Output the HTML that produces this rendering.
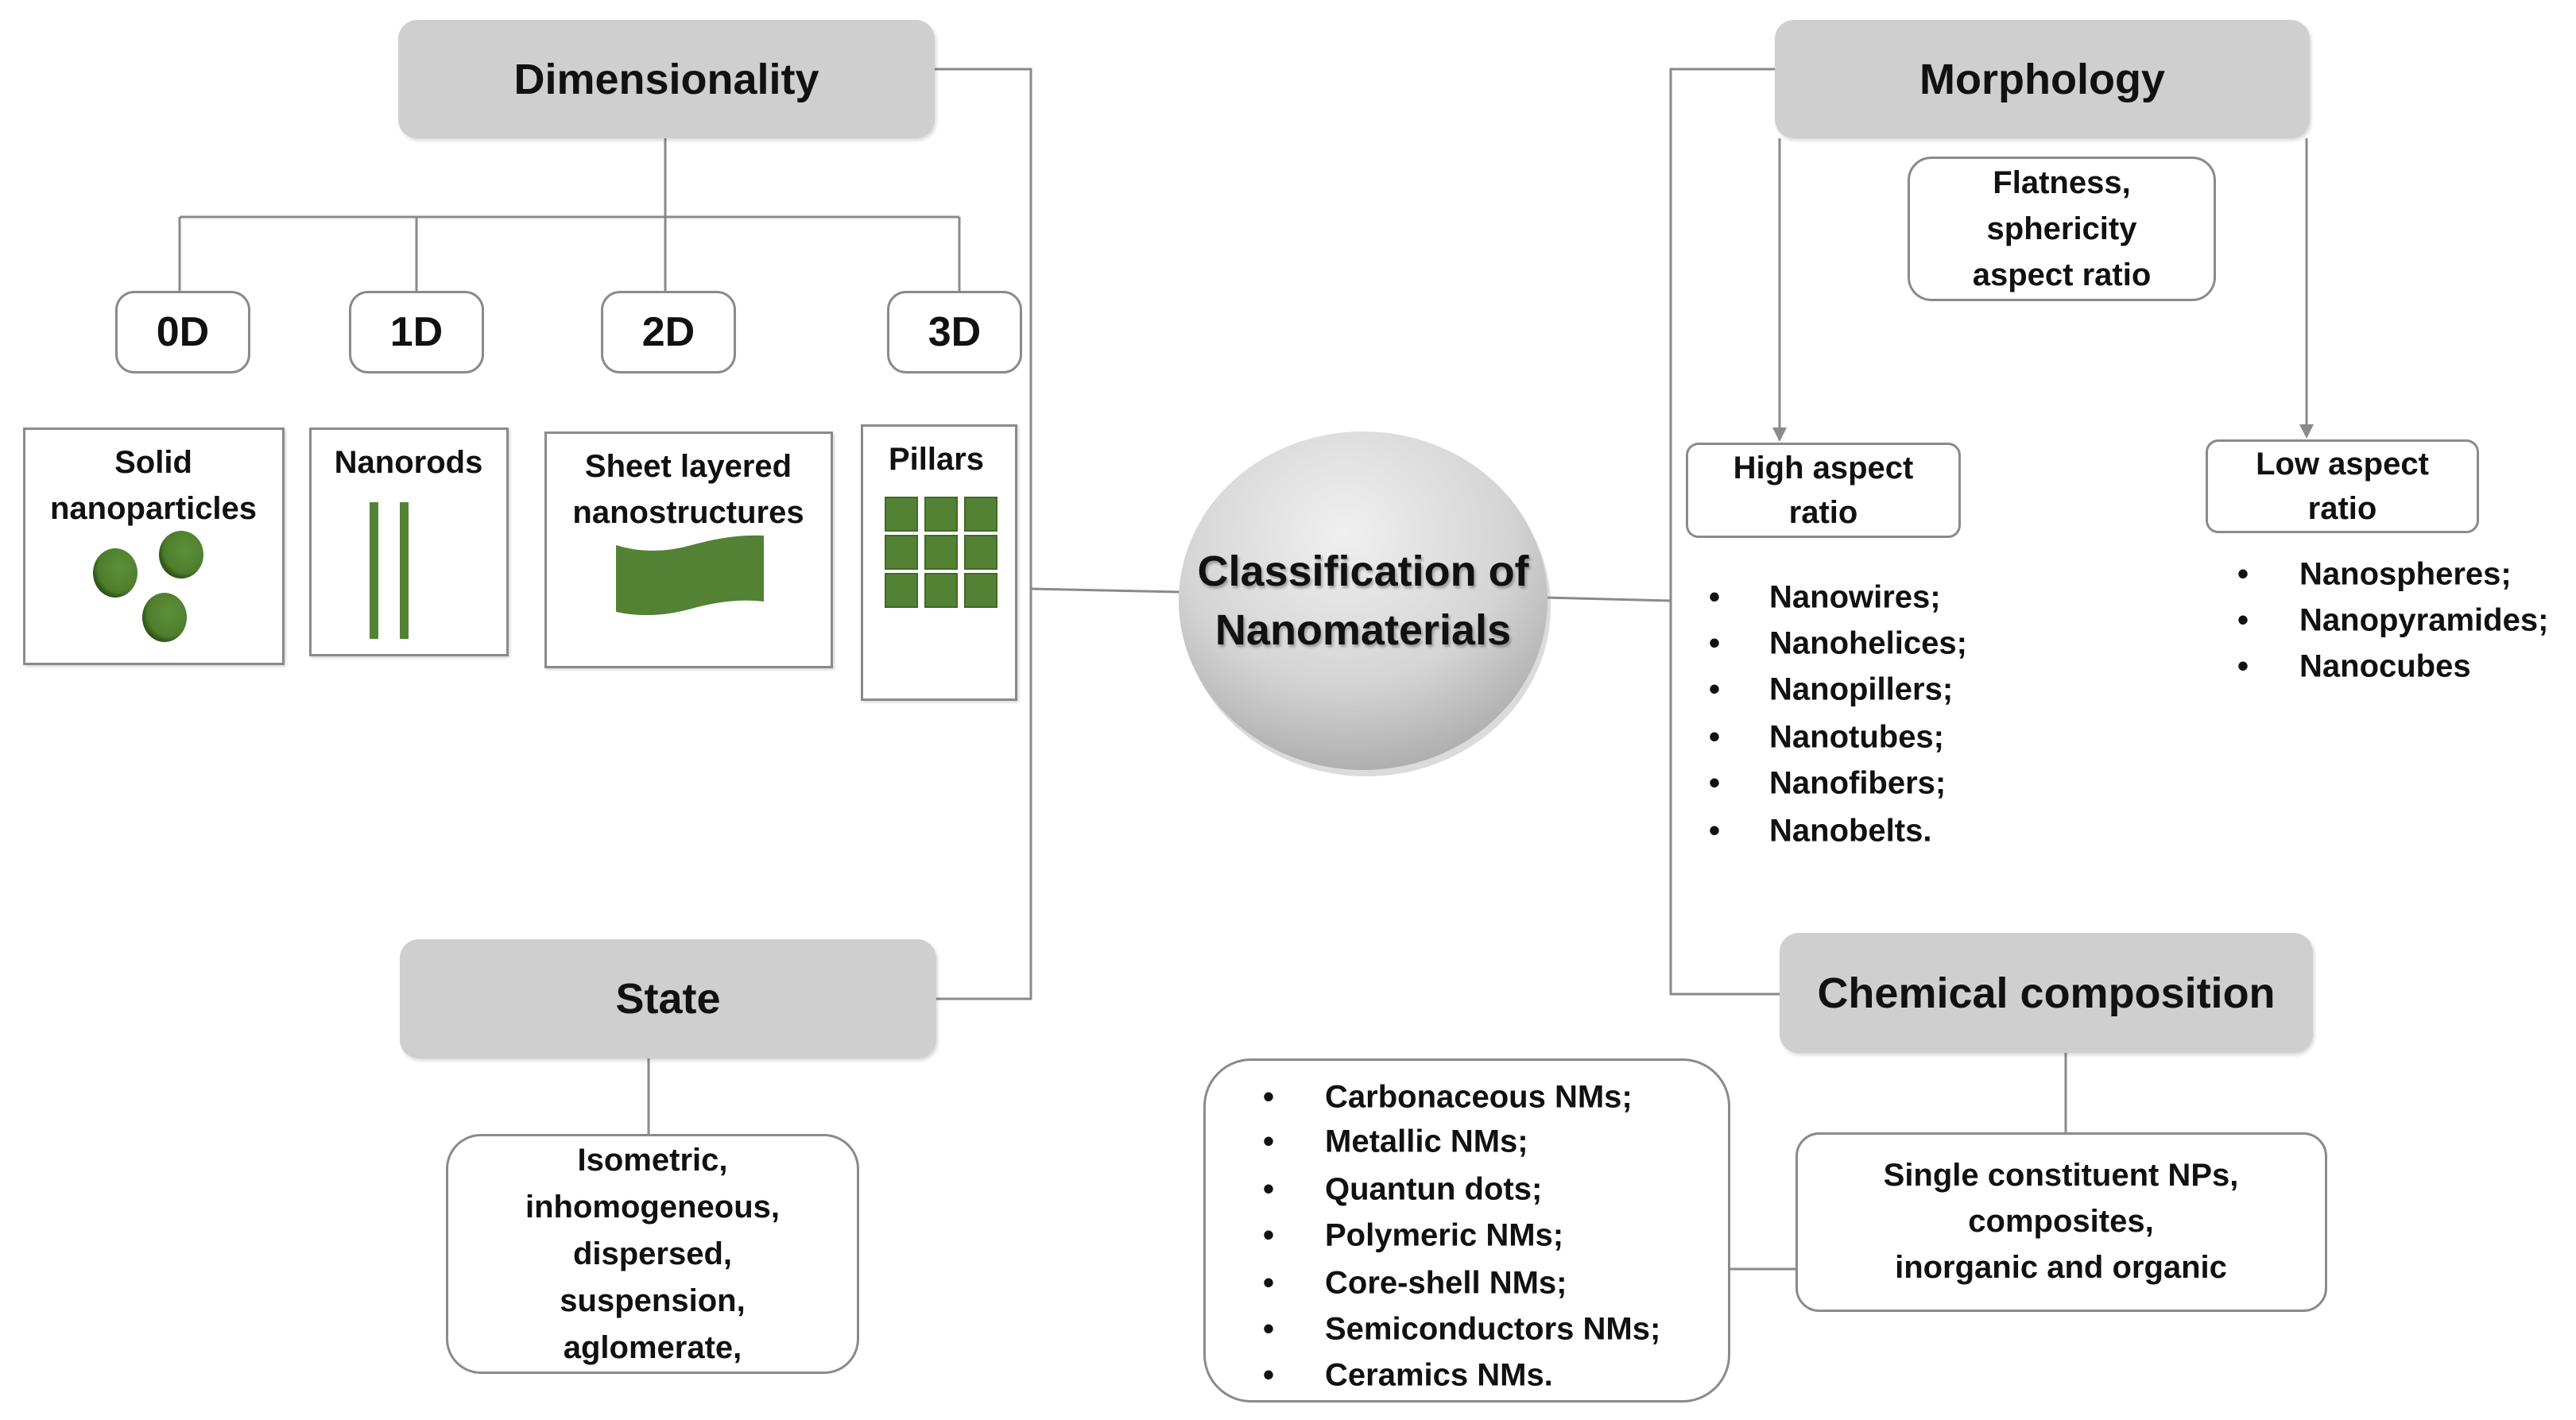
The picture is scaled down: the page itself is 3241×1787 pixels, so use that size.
<!DOCTYPE html>
<html><head><meta charset="utf-8"><style>
body{margin:0;width:3241px;height:1787px;background:#fff;position:relative;overflow:hidden;font-family:"Liberation Sans",sans-serif;font-weight:700;color:#111}
.a{position:absolute;box-sizing:border-box;display:flex;align-items:center;justify-content:center;text-align:center}
.hdr{background:#d0cfd0;border-radius:24px;font-size:54px;box-shadow:2px 3px 4px rgba(0,0,0,0.15)}
.rb{background:#fff;border:3px solid #8a8a8a;border-radius:24px}
.sq{background:#fff;border:3px solid #8a8a8a;box-shadow:2px 2px 3px rgba(0,0,0,.15)}
.t{position:absolute;font-size:40px;white-space:nowrap;transform:translate(-50%,-50%);text-align:center;line-height:58px}
.li{position:absolute;font-size:40px;white-space:nowrap;transform:translateY(-50%)}
</style></head><body>
<svg width="3241" height="1787" style="position:absolute;left:0;top:0">
<g stroke="#8a8a8a" stroke-width="3" fill="none">
<polyline points="1176,87 1297,87 1297,1257 1178,1257"/>
<line x1="837" y1="174" x2="837" y2="366"/>
<line x1="226" y1="273" x2="1207" y2="273"/>
<line x1="226" y1="273" x2="226" y2="366"/>
<line x1="524" y1="273" x2="524" y2="366"/>
<line x1="1207" y1="273" x2="1207" y2="366"/>
<line x1="1297" y1="741" x2="1485" y2="745"/>
<line x1="1945" y1="752" x2="2102" y2="756"/>
<polyline points="2233,87 2102,87 2102,1251 2239,1251"/>
<line x1="2239" y1="174" x2="2239" y2="540"/>
<line x1="2902" y1="174" x2="2902" y2="536"/>
<line x1="816" y1="1332" x2="816" y2="1427"/>
<line x1="2599" y1="1325" x2="2599" y2="1425"/>
<line x1="2177" y1="1597" x2="2371" y2="1597"/>
</g>
<polygon points="2230,538 2248,538 2239,556" fill="#8a8a8a"/>
<polygon points="2893,534 2911,534 2902,552" fill="#8a8a8a"/>
<defs>
<radialGradient id="g" cx="45%" cy="30%" r="75%"><stop offset="0" stop-color="#f0f0f0"/><stop offset=".6" stop-color="#d4d4d4"/><stop offset="1" stop-color="#a8a8a8"/></radialGradient>
<radialGradient id="gr" cx="60%" cy="40%" r="60%"><stop offset="0" stop-color="#5e8f3a"/><stop offset=".8" stop-color="#4e7e2c"/><stop offset="1" stop-color="#2f5518"/></radialGradient>
</defs>
<ellipse cx="1719" cy="764" rx="232" ry="213" fill="#999" opacity=".35"/>
<ellipse cx="1715" cy="756" rx="232" ry="213" fill="url(#g)"/>
</svg>
<div class="a hdr" style="left:501px;top:25px;width:675px;height:149px">Dimensionality</div>
<div class="a hdr" style="left:2233px;top:25px;width:673px;height:149px">Morphology</div>
<div class="a hdr" style="left:503px;top:1182px;width:675px;height:150px">State</div>
<div class="a hdr" style="left:2239px;top:1174px;width:671px;height:151px">Chemical composition</div>
<div class="a rb" style="left:145px;top:366px;width:170px;height:104px;font-size:52px">0D</div>
<div class="a rb" style="left:439px;top:366px;width:170px;height:104px;font-size:52px">1D</div>
<div class="a rb" style="left:756px;top:366px;width:170px;height:104px;font-size:52px">2D</div>
<div class="a rb" style="left:1116px;top:366px;width:170px;height:104px;font-size:52px">3D</div>
<div class="a sq" style="left:29px;top:538px;width:329px;height:299px"></div>
<div class="a sq" style="left:389px;top:538px;width:251px;height:288px"></div>
<div class="a sq" style="left:685px;top:543px;width:363px;height:298px"></div>
<div class="a sq" style="left:1083px;top:534px;width:197px;height:348px"></div>
<div class="t" style="left:193px;top:611px">Solid<br>nanoparticles</div>
<div class="t" style="left:514px;top:582px">Nanorods</div>
<div class="t" style="left:866px;top:616px">Sheet layered<br>nanostructures</div>
<div class="t" style="left:1178px;top:578px">Pillars</div>
<svg width="3241" height="1787" style="position:absolute;left:0;top:0">
<ellipse cx="145" cy="721" rx="28" ry="31" fill="url(#gr)"/>
<ellipse cx="228" cy="698" rx="28" ry="30" fill="url(#gr)"/>
<ellipse cx="207" cy="777" rx="28" ry="31" fill="url(#gr)"/>
<rect x="465" y="632" width="11" height="172" fill="#548235"/>
<rect x="503" y="632" width="11" height="172" fill="#548235"/>
<path d="M775,686 Q820,700 870,686 Q920,672 961,674 L961,757 Q920,752 870,766 Q820,780 775,770 Z" fill="#548235"/>
<g fill="#548235" stroke="#3f6a25" stroke-width="2">
<rect x="1114" y="626" width="40" height="42"/><rect x="1164" y="626" width="40" height="42"/><rect x="1214" y="626" width="40" height="42"/>
<rect x="1114" y="674" width="40" height="42"/><rect x="1164" y="674" width="40" height="42"/><rect x="1214" y="674" width="40" height="42"/>
<rect x="1114" y="722" width="40" height="42"/><rect x="1164" y="722" width="40" height="42"/><rect x="1214" y="722" width="40" height="42"/>
</g>
</svg>
<div class="t" style="left:1715px;top:756px;font-size:54px;line-height:74px;text-shadow:2px 3px 3px rgba(0,0,0,.3)">Classification of<br>Nanomaterials</div>
<div class="a rb" style="left:2400px;top:197px;width:388px;height:182px;border-radius:30px;font-size:40px;line-height:58px">Flatness,<br>sphericity<br>aspect ratio</div>
<div class="a rb" style="left:2121px;top:557px;width:346px;height:120px;border-radius:16px;font-size:40px;line-height:56px">High aspect<br>ratio</div>
<div class="a rb" style="left:2775px;top:553px;width:344px;height:118px;border-radius:16px;font-size:40px;line-height:56px">Low aspect<br>ratio</div>
<div class="li" style="left:2150px;top:752px">•</div><div class="li" style="left:2226px;top:752px">Nanowires;</div>
<div class="li" style="left:2150px;top:810px">•</div><div class="li" style="left:2226px;top:810px">Nanohelices;</div>
<div class="li" style="left:2150px;top:868px">•</div><div class="li" style="left:2226px;top:868px">Nanopillers;</div>
<div class="li" style="left:2150px;top:928px">•</div><div class="li" style="left:2226px;top:928px">Nanotubes;</div>
<div class="li" style="left:2150px;top:986px">•</div><div class="li" style="left:2226px;top:986px">Nanofibers;</div>
<div class="li" style="left:2150px;top:1046px">•</div><div class="li" style="left:2226px;top:1046px">Nanobelts.</div>
<div class="li" style="left:2815px;top:723px">•</div><div class="li" style="left:2893px;top:723px">Nanospheres;</div>
<div class="li" style="left:2815px;top:781px">•</div><div class="li" style="left:2893px;top:781px">Nanopyramides;</div>
<div class="li" style="left:2815px;top:839px">•</div><div class="li" style="left:2893px;top:839px">Nanocubes</div>
<div class="a rb" style="left:561px;top:1427px;width:520px;height:302px;border-radius:44px;font-size:40px;line-height:59px">Isometric,<br>inhomogeneous,<br>dispersed,<br>suspension,<br>aglomerate,</div>
<div class="a rb" style="left:1514px;top:1332px;width:663px;height:433px;border-radius:60px"></div>
<div class="li" style="left:1589px;top:1381px">•</div><div class="li" style="left:1667px;top:1381px">Carbonaceous NMs;</div>
<div class="li" style="left:1589px;top:1437px">•</div><div class="li" style="left:1667px;top:1437px">Metallic NMs;</div>
<div class="li" style="left:1589px;top:1497px">•</div><div class="li" style="left:1667px;top:1497px">Quantun dots;</div>
<div class="li" style="left:1589px;top:1555px">•</div><div class="li" style="left:1667px;top:1555px">Polymeric NMs;</div>
<div class="li" style="left:1589px;top:1615px">•</div><div class="li" style="left:1667px;top:1615px">Core-shell NMs;</div>
<div class="li" style="left:1589px;top:1673px">•</div><div class="li" style="left:1667px;top:1673px">Semiconductors NMs;</div>
<div class="li" style="left:1589px;top:1731px">•</div><div class="li" style="left:1667px;top:1731px">Ceramics NMs.</div>
<div class="a rb" style="left:2259px;top:1425px;width:669px;height:226px;border-radius:30px"></div>
<div class="t" style="left:2593px;top:1537px;background:transparent">Single constituent NPs,<br>composites,<br><span style="background:#fff">inorganic and organic</span></div>
</body></html>
